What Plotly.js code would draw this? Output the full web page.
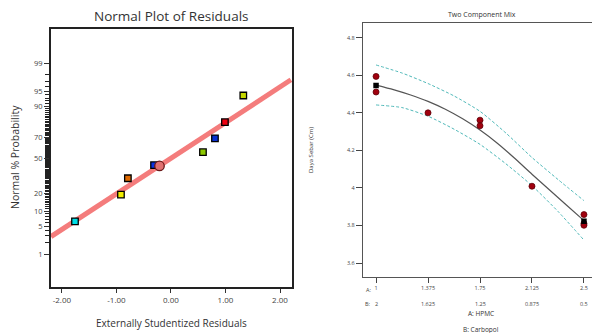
<!DOCTYPE html>
<html>
<head>
<meta charset="utf-8">
<script src="https://cdn.plot.ly/plotly-3.0.1.min.js"></script>
<style>html,body{margin:0;padding:0;background:#fff;}#chart{width:592px;height:333px;}</style>
</head>
<body>
<div id="chart"></div>
<script>
// ---------- Left panel: Normal plot of residuals ----------
const residuals   = [-1.76, -0.917, -0.79, -0.31, -0.21, 0.587, 0.807, 0.99, 1.327];
const probPercent = [6.3, 19.0, 31.6, 43.6, 42.9, 56.2, 69.0, 81.3, 93.8];
const pointColors = ['#00dde6', '#f2ee00', '#e06a00', '#0a32e0', '#e07070', '#8cc800', '#0a30d0', '#ee0010', '#c6d800'];
const pointSymbols = ['square', 'square', 'square', 'square', 'circle', 'square', 'square', 'square', 'square'];
const fitLineResid = [-2.2, 2.2];
const fitLinePct   = [2.87, 97.26];
const probTickLabels = [1, 5, 10, 20, 50, 70, 90, 95, 99];
const residTicks = [-2, -1, 0, 1, 2];
const residTickText = ['-2.00', '-1.00', '0.00', '1.00', '2.00'];

// ---------- Right panel: Two Component Mix ----------
const hpmcTicks = [1, 1.375, 1.75, 2.125, 2.5];
const hpmcTickText = ['1', '1.375', '1.75', '2.125', '2.5'];
const carbopolTickText = ['2', '1.625', '1.25', '0.875', '0.5'];
const obsX = [1, 1, 1.375, 1.75, 1.75, 2.125, 2.5, 2.5, 2.5];
const obsY = [4.594, 4.511, 4.400, 4.361, 4.331, 4.009, 3.858, 3.810, 3.801];
const centerX = [1, 2.5];
const centerY = [4.546, 3.822];
const curveX = [1, 1.125, 1.25, 1.375, 1.5, 1.625, 1.75, 1.875, 2, 2.125, 2.25, 2.375, 2.5];
const curveY = [4.548, 4.524, 4.495, 4.461, 4.419, 4.368, 4.308, 4.238, 4.158, 4.073, 3.990, 3.908, 3.826];
const bandX = [1, 1.1875, 1.375, 1.5625, 1.75, 1.9375, 2.125, 2.3125, 2.5];
const upperY = [4.655, 4.612, 4.556, 4.490, 4.408, 4.292, 4.162, 4.045, 3.932];
const lowerY = [4.442, 4.428, 4.382, 4.313, 4.232, 4.128, 4.012, 3.875, 3.722];
const dayaTicks = [3.6, 3.8, 4, 4.2, 4.4, 4.6, 4.8];
const dayaTickText = ['3.6', '3.8', '4', '4.2', '4.4', '4.6', '4.8'];

// inverse standard normal CDF (Acklam) – scale transform for probability axis
function probit(p) {
  const a = [-3.969683028665376e+01, 2.209460984245205e+02, -2.759285104469687e+02, 1.383577518672690e+02, -3.066479806614716e+01, 2.506628277459239e+00];
  const b = [-5.447609879822406e+01, 1.615858368580409e+02, -1.556989798598866e+02, 6.680131188771972e+01, -1.328068155288572e+01];
  const c = [-7.784894002430293e-03, -3.223964580411365e-01, -2.400758277161838e+00, -2.549732539343734e+00, 4.374664141464968e+00, 2.938163982698783e+00];
  const d = [7.784695709041462e-03, 3.224671290700398e-01, 2.445134137142996e+00, 3.754408661907416e+00];
  const pl = 0.02425, ph = 1 - pl;
  let q, r;
  if (p < pl) {
    q = Math.sqrt(-2 * Math.log(p));
    return (((((c[0]*q+c[1])*q+c[2])*q+c[3])*q+c[4])*q+c[5]) / ((((d[0]*q+d[1])*q+d[2])*q+d[3])*q+1);
  } else if (p <= ph) {
    q = p - 0.5; r = q*q;
    return (((((a[0]*r+a[1])*r+a[2])*r+a[3])*r+a[4])*r+a[5])*q / (((((b[0]*r+b[1])*r+b[2])*r+b[3])*r+b[4])*r+1);
  } else {
    q = Math.sqrt(-2 * Math.log(1 - p));
    return -(((((c[0]*q+c[1])*q+c[2])*q+c[3])*q+c[4])*q+c[5]) / ((((d[0]*q+d[1])*q+d[2])*q+d[3])*q+1);
  }
}
const z = pc => probit(pc / 100);

const minorPct = [];
for (let i = 1; i <= 99; i++) if (!probTickLabels.includes(i)) minorPct.push(i);

const W = 592, H = 333;
const px = v => v / W;
const py = v => 1 - v / H;

const fontFam = '"Open Sans", "Noto Sans", sans-serif';

const traces = [
  { x: fitLineResid, y: fitLinePct.map(z), mode: 'lines', xaxis: 'x', yaxis: 'y',
    line: { color: '#f47c7c', width: 5 }, hoverinfo: 'skip' },
  { x: residuals, y: probPercent.map(z), mode: 'markers', xaxis: 'x', yaxis: 'y',
    marker: { color: pointColors, symbol: pointSymbols, opacity: 1,
              size: pointSymbols.map(s => s === 'circle' ? 9.5 : 6.5),
              line: { color: pointSymbols.map(s => s === 'circle' ? '#6a1818' : '#000'), width: 1.3 } } },
  { x: bandX, y: upperY, mode: 'lines', xaxis: 'x2', yaxis: 'y2',
    line: { color: '#4fb8b8', width: 1, dash: '3px,2px', shape: 'spline', smoothing: 0.6 } },
  { x: bandX, y: lowerY, mode: 'lines', xaxis: 'x2', yaxis: 'y2',
    line: { color: '#4fb8b8', width: 1, dash: '3px,2px', shape: 'spline', smoothing: 0.6 } },
  { x: curveX, y: curveY, mode: 'lines', xaxis: 'x2', yaxis: 'y2',
    line: { color: '#555', width: 1.2, shape: 'spline', smoothing: 0.6 } },
  { x: obsX, y: obsY, mode: 'markers', xaxis: 'x2', yaxis: 'y2',
    marker: { color: '#a0000e', size: 6, symbol: 'circle', line: { color: '#600008', width: 0.8 } } },
  { x: centerX, y: centerY, mode: 'markers', xaxis: 'x2', yaxis: 'y2',
    marker: { color: '#000', size: 5.5, symbol: 'square' } },
  // invisible helper trace so the minor-tick overlay axis is drawn
  { x: [0], y: [0], mode: 'markers', xaxis: 'x', yaxis: 'y3', marker: { opacity: 0, size: 1 }, hoverinfo: 'skip' }
];

const annotations = [
  { text: 'Normal Plot of Residuals', x: px(171), y: py(16), xref: 'paper', yref: 'paper',
    showarrow: false, xanchor: 'center', yanchor: 'middle', font: { family: fontFam, size: 13.5, color: '#333' } },
  { text: 'Normal % Probability', x: px(15), y: py(157), xref: 'paper', yref: 'paper', textangle: -90,
    showarrow: false, xanchor: 'center', yanchor: 'middle', font: { family: fontFam, size: 10.5, color: '#333' } },
  { text: 'Externally Studentized Residuals', x: px(171), y: py(323), xref: 'paper', yref: 'paper',
    showarrow: false, xanchor: 'center', yanchor: 'middle', font: { family: fontFam, size: 10, color: '#333' } },
  { text: 'Two Component Mix', x: px(482), y: py(14), xref: 'paper', yref: 'paper',
    showarrow: false, xanchor: 'center', yanchor: 'middle', font: { family: fontFam, size: 7, color: '#333' } },
  { text: 'Daya Sebar (Cm)', x: px(311), y: py(150), xref: 'paper', yref: 'paper', textangle: -90,
    showarrow: false, xanchor: 'center', yanchor: 'middle', font: { family: fontFam, size: 6, color: '#333' } },
  { text: 'A: HPMC', x: px(481), y: py(313), xref: 'paper', yref: 'paper',
    showarrow: false, xanchor: 'center', yanchor: 'middle', font: { family: fontFam, size: 6.5, color: '#333' } },
  { text: 'B: Carbopol', x: px(481), y: py(329), xref: 'paper', yref: 'paper',
    showarrow: false, xanchor: 'center', yanchor: 'middle', font: { family: fontFam, size: 6.5, color: '#333' } },
  { text: 'A:', x: px(368), y: py(290), xref: 'paper', yref: 'paper',
    showarrow: false, xanchor: 'center', yanchor: 'middle', font: { family: fontFam, size: 5.5, color: '#444' } },
  { text: 'B:', x: px(368), y: py(304), xref: 'paper', yref: 'paper',
    showarrow: false, xanchor: 'center', yanchor: 'middle', font: { family: fontFam, size: 5.5, color: '#444' } }
];
hpmcTicks.forEach((t, i) => annotations.push({
  text: carbopolTickText[i], x: t, y: py(304), xref: 'x2', yref: 'paper',
  showarrow: false, xanchor: 'center', yanchor: 'middle', font: { family: fontFam, size: 5.5, color: '#444' }
}));

const layout = {
  width: W, height: H,
  margin: { l: 0, r: 0, t: 0, b: 0 },
  paper_bgcolor: '#fff', plot_bgcolor: '#fff',
  showlegend: false,
  font: { family: fontFam, color: '#444' },
  xaxis: {
    domain: [px(51), px(292)], range: [-2.2, 2.22], anchor: 'y',
    tickmode: 'array', tickvals: residTicks, ticktext: residTickText,
    ticks: 'outside', ticklen: 4, tickwidth: 1, tickcolor: '#333',
    showline: true, linecolor: '#222', linewidth: 2, mirror: true,
    showgrid: false, zeroline: false, fixedrange: true,
    tickfont: { size: 8, color: '#444', family: fontFam }
  },
  yaxis: {
    domain: [py(287), py(29)], range: [-3.13, 3.16], anchor: 'x',
    tickmode: 'array', tickvals: probTickLabels.map(z), ticktext: probTickLabels.map(String),
    ticks: 'outside', ticklen: 5, tickwidth: 1, tickcolor: '#333',
    showline: true, linecolor: '#222', linewidth: 2, mirror: true,
    showgrid: false, zeroline: false, fixedrange: true,
    tickfont: { size: 7.5, color: '#444', family: fontFam }
  },
  yaxis3: {
    overlaying: 'y', anchor: 'x', side: 'left', range: [-3.13, 3.16],
    tickmode: 'array', tickvals: minorPct.map(z), ticktext: minorPct.map(() => ''),
    ticks: 'outside', ticklen: 4, tickwidth: 1, tickcolor: '#222',
    showline: true, linecolor: '#222', linewidth: 2,
    showgrid: false, zeroline: false, fixedrange: true
  },
  xaxis2: {
    domain: [px(363.3), 1], range: [0.908, 2.558], anchor: 'y2',
    tickmode: 'array', tickvals: hpmcTicks, ticktext: hpmcTickText,
    ticks: 'outside', ticklen: 5, tickwidth: 1, tickcolor: '#444',
    showline: true, linecolor: '#555', linewidth: 1.5, mirror: true,
    showgrid: false, zeroline: false, fixedrange: true,
    tickfont: { size: 5.5, color: '#444', family: fontFam }
  },
  yaxis2: {
    domain: [py(276.7), py(23.3)], range: [3.527, 4.877], anchor: 'x2',
    tickmode: 'array', tickvals: dayaTicks, ticktext: dayaTickText,
    ticks: 'outside', ticklen: 6, tickwidth: 1, tickcolor: '#444',
    showline: true, linecolor: '#555', linewidth: 1.5, mirror: false,
    showgrid: false, zeroline: false, fixedrange: true,
    tickfont: { size: 5.5, color: '#444', family: fontFam }
  },
  annotations: annotations
};

Plotly.newPlot('chart', traces, layout, { displayModeBar: false, staticPlot: true });
</script>
</body>
</html>
